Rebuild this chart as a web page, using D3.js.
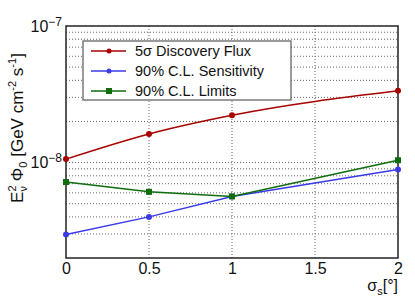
<!DOCTYPE html>
<html>
<head>
<meta charset="utf-8">
<script src="https://cdn.jsdelivr.net/npm/d3@7"></script>
<style>
  body { margin: 0; background: #fff; }
  text { font-family: "Liberation Sans", Arial, sans-serif; fill: #111; }
</style>
</head>
<body>
<svg id="chart" width="415" height="298"></svg>
<script>
// data
const sigmaS = [0, 0.5, 1, 2];
const discovery = [1.06e-8, 1.62e-8, 2.22e-8, 3.35e-8];
const sensitivity = [2.97e-9, 4.0e-9, 5.65e-9, 8.9e-9];
const limits = [7.2e-9, 6.1e-9, 5.65e-9, 1.04e-8];
const seriesNames = ["5\u03c3 Discovery Flux", "90% C.L. Sensitivity", "90% C.L. Limits"];
const xTicks = [0, 0.5, 1, 1.5, 2];
const xTickLabels = ["0", "0.5", "1", "1.5", "2"];
const yMajor = [1e-8, 1e-7];
const yMajorExp = ["\u22128", "\u22127"];
const yGridVals = [3e-9, 4e-9, 5e-9, 6e-9, 7e-9, 8e-9, 9e-9, 1e-8,
  2e-8, 3e-8, 4e-8, 5e-8, 6e-8, 7e-8, 8e-8, 9e-8];

const svg = d3.select('#chart');
const pLeft = 66, pRight = 398, pTop = 26, pBottom = 258;

const x = d3.scaleLinear().domain([0, 2]).range([pLeft, pRight]);
const y = d3.scaleLog().domain([2e-9, 1e-7]).range([pBottom, pTop]);

// grid
const grid = svg.append('g').attr('class', 'grid');
grid.selectAll('line.h')
  .data(yGridVals)
  .enter().append('line')
  .attr('x1', pLeft).attr('x2', pRight)
  .attr('y1', d => y(d)).attr('y2', d => y(d))
  .attr('stroke', '#666')
  .attr('stroke-width', 1)
  .attr('stroke-dasharray', '1,2');
grid.selectAll('line.v')
  .data(xTicks.slice(1, -1))
  .enter().append('line')
  .attr('x1', d => x(d)).attr('x2', d => x(d))
  .attr('y1', pTop).attr('y2', pBottom)
  .attr('stroke', '#666')
  .attr('stroke-width', 1)
  .attr('stroke-dasharray', '1,2');

// x axis
const xAxis = d3.axisBottom(x).tickValues(xTicks)
  .tickFormat((d, i) => xTickLabels[i]).tickSize(0).tickPadding(5);
const gx = svg.append('g')
  .attr('transform', 'translate(0,' + pBottom + ')')
  .call(xAxis);
gx.select('.domain').remove();
gx.selectAll('text').attr('font-size', 16).attr('fill', '#111')
  .attr('font-family', '"Liberation Sans", Arial, sans-serif');

// y axis
const yAxis = d3.axisLeft(y).tickValues(yMajor).tickSize(0).tickPadding(4).tickFormat('');
const gy = svg.append('g')
  .attr('transform', 'translate(' + pLeft + ',0)')
  .call(yAxis);
gy.select('.domain').remove();
gy.selectAll('.tick text')
  .attr('font-size', 16)
  .attr('font-family', '"Liberation Sans", Arial, sans-serif')
  .attr('fill', '#111')
  .attr('x', -4)
  .each(function (d, i) {
    const t = d3.select(this);
    t.append('tspan').text('10');
    t.append('tspan').attr('font-size', 12).attr('dy', -6).text(yMajorExp[i]);
  });

// frame
svg.append('rect')
  .attr('x', pLeft).attr('y', pTop)
  .attr('width', pRight - pLeft).attr('height', pBottom - pTop)
  .attr('fill', 'none')
  .attr('stroke', '#222')
  .attr('stroke-width', 1.5);

// series
const series = [
  { name: seriesNames[0], vals: discovery, color: '#a80000', shape: 'circle', curve: d3.curveMonotoneX },
  { name: seriesNames[1], vals: sensitivity, color: '#3a3ae6', shape: 'circle', curve: d3.curveLinear },
  { name: seriesNames[2], vals: limits, color: '#0e6e0e', shape: 'square', curve: d3.curveLinear }
];

series.forEach(s => {
  const pts = sigmaS.map((v, i) => [v, s.vals[i]]);
  const line = d3.line().x(d => x(d[0])).y(d => y(d[1])).curve(s.curve);
  svg.append('path')
    .datum(pts)
    .attr('d', line)
    .attr('fill', 'none')
    .attr('stroke', s.color)
    .attr('stroke-width', 1.5);
  if (s.shape === 'circle') {
    svg.selectAll(null).data(pts).enter().append('circle')
      .attr('cx', d => x(d[0])).attr('cy', d => y(d[1]))
      .attr('r', 3).attr('fill', s.color);
  } else {
    svg.selectAll(null).data(pts).enter().append('rect')
      .attr('x', d => x(d[0]) - 3).attr('y', d => y(d[1]) - 3)
      .attr('width', 6).attr('height', 6).attr('fill', s.color);
  }
});

// legend
const lg = svg.append('g');
lg.append('rect')
  .attr('x', 83).attr('y', 41).attr('width', 208).attr('height', 59)
  .attr('fill', '#fff').attr('stroke', '#666').attr('stroke-width', 1.3);
series.forEach((s, i) => {
  const ly = 51 + i * 20;
  lg.append('line')
    .attr('x1', 91).attr('x2', 126).attr('y1', ly).attr('y2', ly)
    .attr('stroke', s.color).attr('stroke-width', 1.5);
  if (s.shape === 'circle') {
    lg.append('circle').attr('cx', 109).attr('cy', ly).attr('r', 2.5).attr('fill', s.color);
  } else {
    lg.append('rect').attr('x', 106).attr('y', ly - 3).attr('width', 6).attr('height', 6).attr('fill', s.color);
  }
  lg.append('text')
    .attr('x', 135).attr('y', ly + 5)
    .attr('font-size', 14.5)
    .text(s.name);
});

// axis titles
const xt = svg.append('text')
  .attr('x', 398).attr('y', 291)
  .attr('text-anchor', 'end')
  .attr('font-size', 16);
xt.append('tspan').text('\u03c3');
xt.append('tspan').attr('font-size', 11).attr('dy', 4).text('s');
xt.append('tspan').attr('dy', -4).text('[\u00b0]');

const yt = svg.append('text')
  .attr('transform', 'translate(23,128) rotate(-90)')
  .attr('text-anchor', 'middle')
  .attr('font-size', 17);
yt.append('tspan').text('E');
yt.append('tspan').attr('font-size', 11).attr('dy', -7).text('2');
yt.append('tspan').attr('font-size', 11).attr('dx', -6).attr('dy', 11).text('\u03bd');
yt.append('tspan').attr('dy', -4).text(' \u03a6');
yt.append('tspan').attr('font-size', 11).attr('dy', 4).text('0');
yt.append('tspan').attr('dy', -4).text(' [GeV cm');
yt.append('tspan').attr('font-size', 11).attr('dy', -7).text('-2');
yt.append('tspan').attr('dy', 7).text(' s');
yt.append('tspan').attr('font-size', 11).attr('dy', -7).text('-1');
yt.append('tspan').attr('dy', 7).text(']');
</script>
</body>
</html>
